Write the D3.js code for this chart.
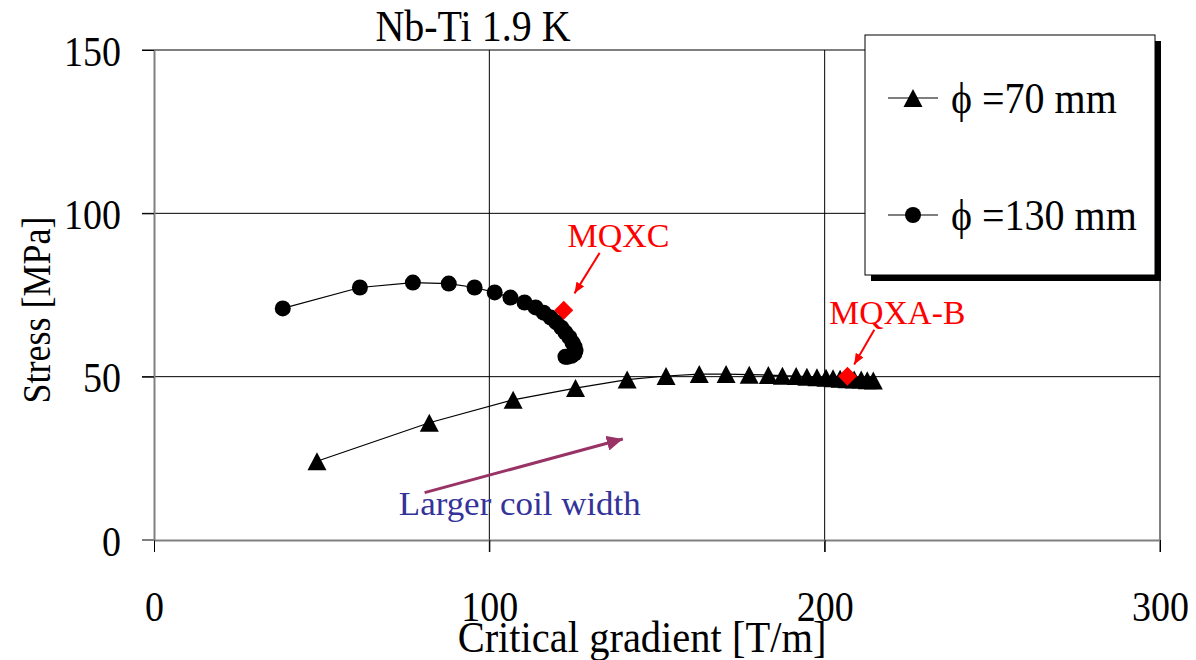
<!DOCTYPE html>
<html>
<head>
<meta charset="utf-8">
<script src="https://cdn.jsdelivr.net/npm/d3@7"></script>
<style>
body { margin: 0; background: #fff; }
text { font-family: "Liberation Serif", "Times New Roman", serif; }
</style>
</head>
<body>
<div id="chart"></div>
<script>
// phi = 70 mm aperture
const grad70 = [48.6, 82.1, 107.1, 125.7, 141.1, 152.7, 162.6, 170.6, 177.5, 183.2, 187.4,
  191.5, 194.7, 197.7, 200.4, 202.5, 204.6, 206.7, 208.8, 210.9, 212.7, 214.5];
const stress70 = [24.1, 35.9, 42.9, 46.5, 49.1, 50.2, 50.8, 50.8, 50.6, 50.5, 50.3,
  50.2, 50.0, 49.8, 49.7, 49.5, 49.4, 49.2, 49.1, 49.1, 48.9, 48.8];

// phi = 130 mm aperture
const grad130 = [38.4, 61.4, 77.2, 87.9, 95.6, 101.6, 106.3, 110.5, 113.8, 116.2, 118.3,
  120.0, 121.5, 122.7, 123.9, 124.8, 125.4, 125.7, 125.4, 124.5, 123.3, 122.7];
const stress130 = [70.9, 77.3, 78.8, 78.5, 77.3, 75.8, 74.2, 72.7, 71.2, 69.6, 68.1,
  66.6, 65.0, 63.5, 62.0, 60.4, 59.2, 58.0, 57.1, 56.4, 56.1, 56.1];

// existing magnets
const magnetNames = ["MQXC", "MQXA-B"];
const magnetGrad = [122.2, 206.8];
const magnetStress = [70.3, 50.1];

const xTicks = [0, 100, 200, 300];
const yTicks = [0, 50, 100, 150];
const seriesNames = ["\u03D5 =70 mm", "\u03D5 =130 mm"];

const W = 1196, H = 660;
const SY = 1.12; // text in the original is a bit taller than normal
const svg = d3.select('#chart').append('svg')
  .attr('width', W).attr('height', H);

const x = d3.scaleLinear().domain([0, 300]).range([154, 1160]);
const y = d3.scaleLinear().domain([0, 150]).range([540, 50]);

function tallText(parent, tx, ty, size, str, extra) {
  return parent.append('text')
    .attr('transform', `translate(${tx},${ty}) ${extra || ''} scale(1,${SY})`)
    .attr('font-size', size).text(str);
}

// grid
svg.append('g').selectAll('line').data(yTicks.filter(d => d > 0)).enter()
  .append('line')
  .attr('x1', 142).attr('x2', x(300))
  .attr('y1', d => y(d)).attr('y2', d => y(d))
  .attr('stroke', '#000').attr('stroke-width', 1);
svg.append('g').selectAll('line').data(xTicks.filter(d => d > 0)).enter()
  .append('line')
  .attr('x1', d => x(d)).attr('x2', d => x(d))
  .attr('y1', y(150)).attr('y2', 552)
  .attr('stroke', '#000').attr('stroke-width', 1);

// axes
const xAxis = svg.append('g').attr('transform', `translate(0,${y(0)})`)
  .call(d3.axisBottom(x).tickValues(xTicks).tickSizeInner(12).tickSizeOuter(0));
const yAxis = svg.append('g').attr('transform', `translate(${x(0)},0)`)
  .call(d3.axisLeft(y).tickValues(yTicks).tickSizeInner(12).tickSizeOuter(0));
[xAxis, yAxis].forEach(a => {
  a.select('.domain').attr('stroke', '#808080').attr('stroke-width', 2);
  a.selectAll('.tick line').attr('stroke', '#000');
  a.selectAll('.tick text').attr('font-family', 'Liberation Serif')
    .attr('font-size', 38).attr('fill', '#000').attr('dy', null);
});
xAxis.selectAll('.tick text').attr('y', null)
  .attr('transform', `translate(0,81) scale(1,${SY})`);
yAxis.selectAll('.tick text').attr('x', -33)
  .attr('transform', `translate(0,15) scale(1,${SY})`);
// x-axis line continues left to the tick end
svg.append('line').attr('x1', 142).attr('x2', x(0))
  .attr('y1', y(0)).attr('y2', y(0)).attr('stroke', '#808080').attr('stroke-width', 2);

// titles
tallText(svg, 473, 41, 40, 'Nb-Ti 1.9 K').attr('text-anchor', 'middle');
tallText(svg, 642, 652, 40.5, 'Critical gradient [T/m]').attr('text-anchor', 'middle');
tallText(svg, 50, 310, 36, 'Stress [MPa]', 'rotate(-90)').attr('text-anchor', 'middle');

// series
const pts70 = grad70.map((g, i) => [g, stress70[i]]);
const pts130 = grad130.map((g, i) => [g, stress130[i]]);
const line = d3.line().x(d => x(d[0])).y(d => y(d[1]));

function triPath(cx, cy) {
  return `M${cx},${cy - 9}L${cx + 9.5},${cy + 9}L${cx - 9.5},${cy + 9}Z`;
}

svg.append('path').datum(pts130).attr('d', line)
  .attr('fill', 'none').attr('stroke', '#000').attr('stroke-width', 1.2);
svg.append('g').selectAll('circle').data(pts130).enter()
  .append('circle').attr('cx', d => x(d[0])).attr('cy', d => y(d[1]))
  .attr('r', 8).attr('fill', '#000');

svg.append('path').datum(pts70).attr('d', line)
  .attr('fill', 'none').attr('stroke', '#000').attr('stroke-width', 1.2);
svg.append('g').selectAll('path').data(pts70).enter()
  .append('path').attr('d', d => triPath(x(d[0]), y(d[1]))).attr('fill', '#000');

// magnets
const defs = svg.append('defs');
function arrowHead(id, color, len, wid) {
  defs.append('marker').attr('id', id)
    .attr('viewBox', `0 0 ${len} ${wid}`).attr('refX', len).attr('refY', wid / 2)
    .attr('markerUnits', 'userSpaceOnUse')
    .attr('markerWidth', len).attr('markerHeight', wid).attr('orient', 'auto')
    .append('path').attr('d', `M0,0L${len},${wid / 2}L0,${wid}Z`).attr('fill', color);
}
arrowHead('redHead', '#ff0000', 11, 9);
arrowHead('plumHead', '#993366', 16, 15);

const labels = [
  { tx: 123.3, ty: 89.6, from: [132.9, 87.9], to: [125.4, 75.5], len: 102 },
  { tx: 201.4, ty: 66.0, from: [214.8, 64.4], to: [208.8, 53.7], len: 136 }
];
magnetNames.forEach((name, i) => {
  const l = labels[i];
  svg.append('line')
    .attr('x1', x(l.from[0])).attr('y1', y(l.from[1]))
    .attr('x2', x(l.to[0])).attr('y2', y(l.to[1]))
    .attr('stroke', '#ff0000').attr('stroke-width', 2).attr('marker-end', 'url(#redHead)');
  svg.append('text').attr('x', x(l.tx)).attr('y', y(l.ty))
    .attr('font-size', 34).attr('fill', '#ff0000')
    .attr('textLength', l.len).attr('lengthAdjust', 'spacingAndGlyphs').text(name);
});
svg.append('g').selectAll('path').data(magnetNames).enter().append('path')
  .attr('d', d3.symbol().type(d3.symbolSquare).size(180)())
  .attr('transform', (d, i) => `translate(${x(magnetGrad[i])},${y(magnetStress[i])}) rotate(45)`)
  .attr('fill', '#ff0000');

// trend arrow
svg.append('line')
  .attr('x1', x(80.7)).attr('y1', y(14.5)).attr('x2', x(139.8)).attr('y2', y(30.9))
  .attr('stroke', '#993366').attr('stroke-width', 3).attr('marker-end', 'url(#plumHead)');
svg.append('text').attr('x', x(73.0)).attr('y', y(7.7))
  .attr('font-size', 33).attr('fill', '#333399')
  .attr('textLength', 242).attr('lengthAdjust', 'spacingAndGlyphs').text('Larger coil width');

// legend
const lg = svg.append('g').attr('transform', 'translate(865,35)');
lg.append('rect').attr('x', 6).attr('y', 6).attr('width', 290).attr('height', 240).attr('fill', '#000');
lg.append('rect').attr('width', 290).attr('height', 240)
  .attr('fill', '#fff').attr('stroke', '#000').attr('stroke-width', 1);
seriesNames.forEach((name, i) => {
  const cy = i === 0 ? 63 : 180;
  lg.append('line').attr('x1', 23).attr('x2', 73).attr('y1', cy).attr('y2', cy)
    .attr('stroke', '#000').attr('stroke-width', 1.2);
  if (i === 0) lg.append('path').attr('d', triPath(48, cy)).attr('fill', '#000');
  else lg.append('circle').attr('cx', 48).attr('cy', cy).attr('r', 8).attr('fill', '#000');
  tallText(lg, 86, cy + 15, 40, name);
});
</script>
</body>
</html>
